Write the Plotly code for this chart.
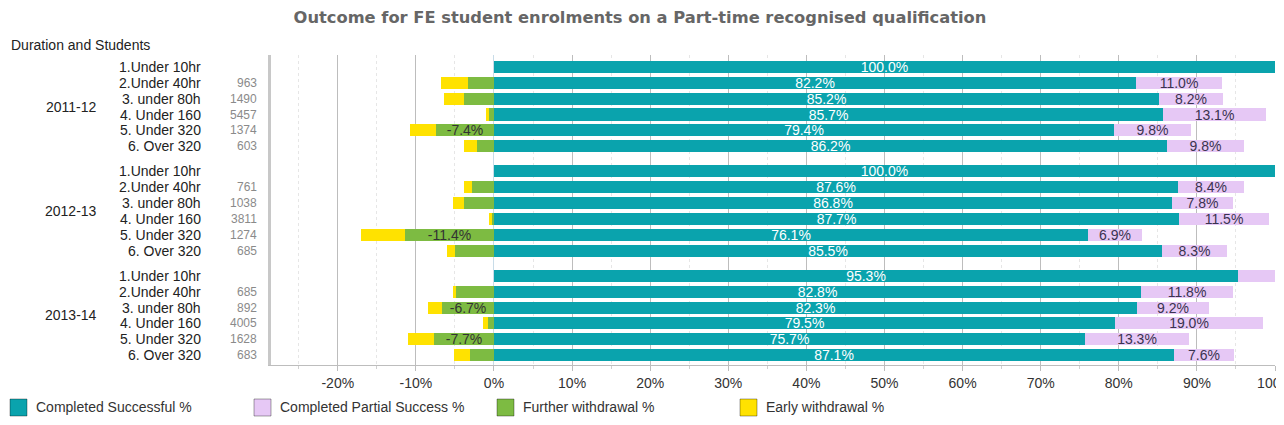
import plotly.graph_objects as go

groups = ["2011-12", "2012-13", "2013-14"]
durations = ["1.Under 10hr", "2.Under 40hr", "3. under 80h", "4. Under 160", "5. Under 320", "6. Over 320"]
students_2011 = ["", "963", "1490", "5457", "1374", "603"]
students_2012 = ["", "761", "1038", "3811", "1274", "685"]
students_2013 = ["", "685", "892", "4005", "1628", "683"]

success_2011 = [100.0, 82.2, 85.2, 85.7, 79.4, 86.2]
success_2012 = [100.0, 87.6, 86.8, 87.7, 76.1, 85.5]
success_2013 = [95.3, 82.8, 82.3, 79.5, 75.7, 87.1]
partial_2011 = [0.0, 11.0, 8.2, 13.1, 9.8, 9.8]
partial_2012 = [0.0, 8.4, 7.8, 11.5, 6.9, 8.3]
partial_2013 = [4.7, 11.8, 9.2, 19.0, 13.3, 7.6]
further_2011 = [0.0, -3.3, -3.8, -0.6, -7.4, -2.2]
further_2012 = [0.0, -2.8, -3.8, -0.2, -11.4, -5.0]
further_2013 = [0.0, -4.9, -6.7, -0.8, -7.7, -3.1]
early_2011 = [0.0, -3.5, -2.6, -0.4, -3.3, -1.7]
early_2012 = [0.0, -1.0, -1.4, -0.4, -5.6, -1.0]
early_2013 = [0.0, -0.4, -1.8, -0.6, -3.3, -2.0]

tick_vals = [-20, -10, 0, 10, 20, 30, 40, 50, 60, 70, 80, 90, 100]
tick_labels = ["-20%", "-10%", "0%", "10%", "20%", "30%", "40%", "50%", "60%", "70%", "80%", "90%", "100%"]

students = [students_2011, students_2012, students_2013]
series = [
    ("Completed Successful %", success_2011 + success_2012 + success_2013, "#0aa3ad", "white"),
    ("Completed Partial Success %", partial_2011 + partial_2012 + partial_2013, "#e6c8f5", "#3a3350"),
    ("Further withdrawal %", further_2011 + further_2012 + further_2013, "#7dbb42", "#333333"),
    ("Early withdrawal %", early_2011 + early_2012 + early_2013, "#ffe200", "#333333"),
]

GROUP_STEP = 6.6
ypos = [g * GROUP_STEP + r for g in range(len(groups)) for r in range(len(durations))]

fig = go.Figure()
for i, (name, vals, color, tcol) in enumerate(series):
    texts = [("%.1f%%" % v) if (abs(v) >= 6 or i == 0) and v != 0 else "" for v in vals]
    fig.add_trace(go.Bar(
        name=name, y=ypos, x=vals, orientation="h",
        marker=dict(color=color, line=dict(width=0)),
        width=0.76, text=texts, textposition="inside", insidetextanchor="middle",
        textangle=0, textfont=dict(color=tcol, size=14, family="Liberation Sans"),
        cliponaxis=False, showlegend=False,
    ))

# page offset of the figure (body margin)
OFF = 8
W, H = 1284 - OFF, 425 - OFF
LEFT, PW = 271, 1004   # plot area, page pixels
TOP, PH = 55, 310
def px(x):
    return (x - LEFT) / PW
def py(y):
    return (TOP + PH - y) / PH

ann = []
shapes = []
for g, grp in enumerate(groups):
    ann.append(dict(text=grp, x=px(71), xref="paper", y=g * GROUP_STEP + 2.5, yref="y",
                    xanchor="center", yanchor="middle", showarrow=False,
                    font=dict(size=14, color="#222222")))
    for r, d in enumerate(durations):
        yy = g * GROUP_STEP + r
        ann.append(dict(text=d, x=px(203), xref="paper", y=yy, yref="y",
                        xanchor="right", yanchor="middle", showarrow=False,
                        font=dict(size=14, color="#222222")))
        if students[g][r]:
            ann.append(dict(text=students[g][r], x=px(259), xref="paper", y=yy, yref="y",
                            xanchor="right", yanchor="middle", showarrow=False,
                            font=dict(size=12, color="#8a8a8a")))

ann.append(dict(text="Duration and Students", x=px(9), xref="paper", y=py(45), yref="paper",
                xanchor="left", yanchor="middle", showarrow=False, font=dict(size=14, color="#222222")))

# legend drawn as shapes + labels
legend_x = [10, 254, 497, 740]
for (name, vals, color, tcol), lx in zip(series, legend_x):
    shapes.append(dict(type="rect", xref="paper", yref="paper",
                       x0=px(lx), x1=px(lx + 17), y0=py(416), y1=py(399),
                       fillcolor=color, line=dict(color="rgba(0,0,0,0.35)", width=1), layer="above"))
    ann.append(dict(text=name, x=px(lx + 24), xref="paper", y=py(407), yref="paper",
                    xanchor="left", yanchor="middle", showarrow=False,
                    font=dict(size=14, color="#333333")))

fig.update_layout(
    width=W, height=H,
    margin=dict(l=LEFT - OFF, r=W - (LEFT + PW - OFF), t=TOP - OFF, b=H - (TOP + PH - OFF), autoexpand=False),
    paper_bgcolor="white", plot_bgcolor="white",
    barmode="relative", bargap=0,
    font=dict(family="Liberation Sans", size=14, color="#333333"),
    title=dict(text="<b>Outcome for FE student enrolments on a Part-time recognised qualification</b>",
               x=(640 - OFF) / W, xref="container", xanchor="center",
               y=1 - (17 - OFF) / H, yref="container", yanchor="middle",
               font=dict(family="DejaVu Sans", size=16.3, color="#666666")),
    uniformtext=dict(minsize=14, mode="show"),
    showlegend=False,
    annotations=ann,
    shapes=shapes,
)
fig.update_xaxes(range=[-28.55, 100], tickvals=tick_vals, ticktext=tick_labels, showgrid=True, gridcolor="#bdbdbd",
                 gridwidth=1, zeroline=True, zerolinecolor="#c8dce8", zerolinewidth=1,
                 showline=True, linecolor="#bdbdbd", ticks="outside", ticklen=5, tickcolor="#bdbdbd",
                 tickfont=dict(size=14, color="#333333"), ticklabeloverflow="allow",
                 minor=dict(dtick=5, showgrid=True, gridcolor="#e6e6e6", griddash="dot",
                            ticks="outside", ticklen=3, tickcolor="#d0d0d0"))
fig.update_yaxes(range=[18.83, -0.76], showticklabels=False, showgrid=False, zeroline=False,
                 showline=True, linecolor="#c8c8c8", linewidth=3)

fig.write_html("out.html")
